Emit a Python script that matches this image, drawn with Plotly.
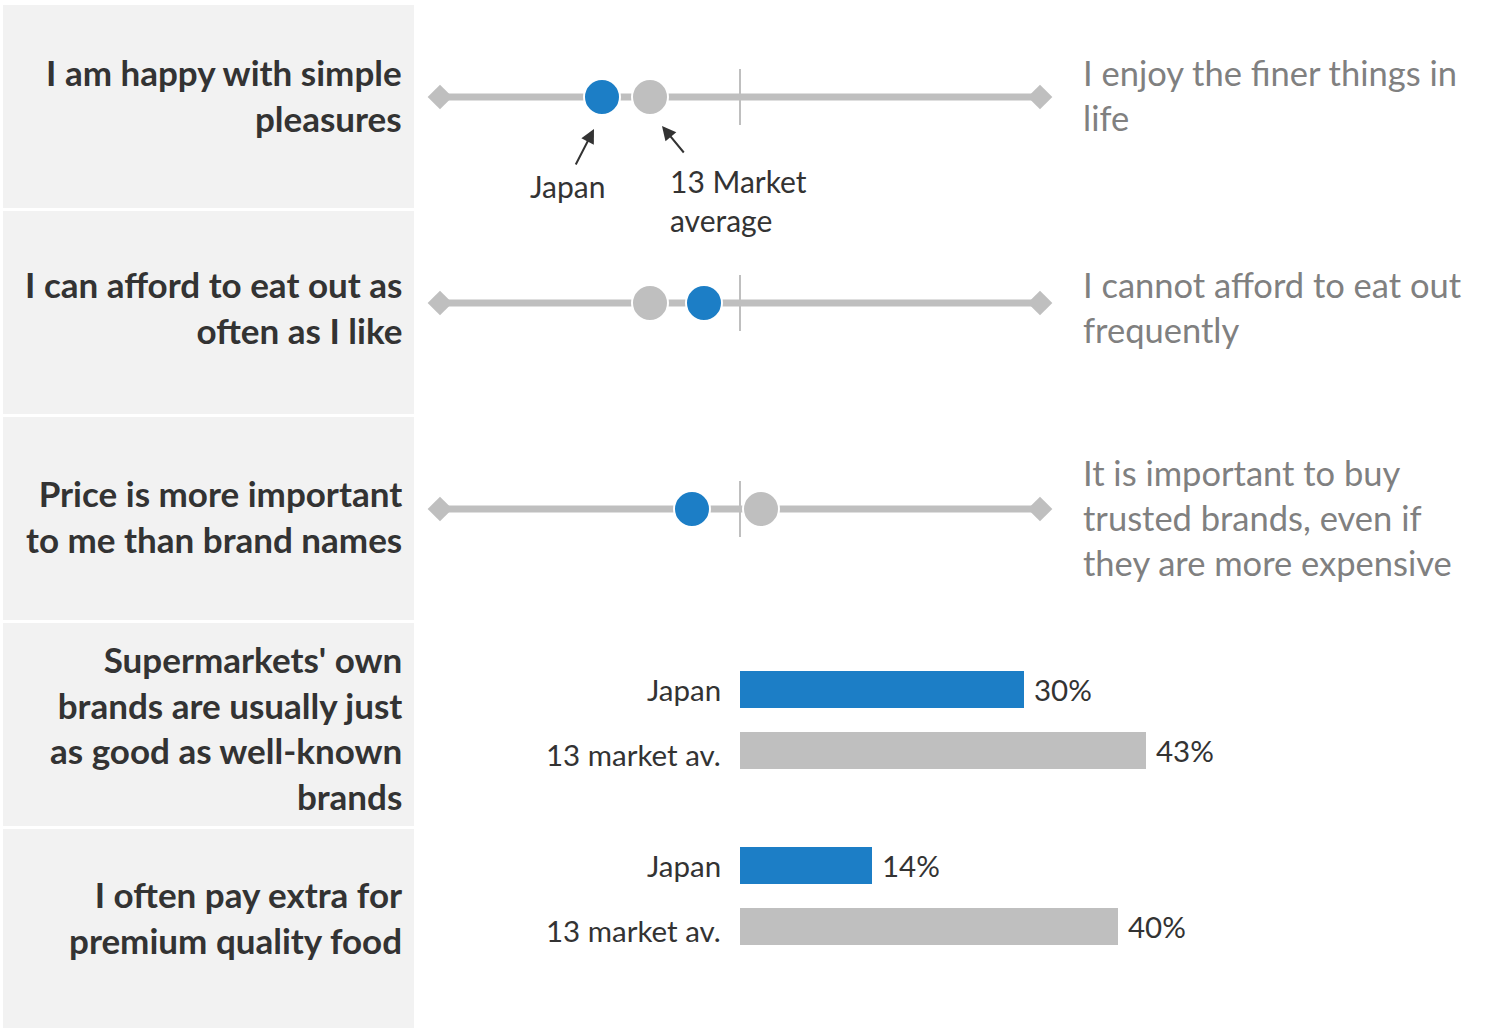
import plotly.graph_objects as go

# ---- data -------------------------------------------------------------
statements = [
    "I am happy with simple<br>pleasures",
    "I can afford to eat out as<br>often as I like",
    "Price is more important<br>to me than brand names",
    "Supermarkets' own<br>brands are usually just<br>as good as well-known<br>brands",
    "I often pay extra for<br>premium quality food",
]
opposites = [
    "I enjoy the finer things in<br>life",
    "I cannot afford to eat out<br>frequently",
    "It is important to buy<br>trusted brands, even if<br>they are more expensive",
]
# net position on the scale between the two statements (-100 .. 100)
japan_scale = [-46, -12, -16]
market_scale = [-30, -30, 7]
# share agreeing (%)
bar_groups = ["Japan", "13 market av."]
japan_pct = [30, 14]
market_pct = [43, 40]

# ---- styling ------------------------------------------------------------
W, H = 1499, 1030
BLUE = "#1c7ec6"
GREY = "#bfbfbf"
PANEL = "#f2f2f2"
DARK = "#333333"
SOFT = "#808080"
FONT = "Lato"

ROW_TOP = 5
ROW_STEP = 206
PANEL_H = 203
LINE_OFFSET = 92           # scale line position inside a row
LABEL_CENTRES = [95, 307, 516, 727, 917]
RIGHT_CENTRES = [95, 307, 517]
BAR_GROUP_CENTRES = [720, 896]
BAR_GAP = 61
BAR_H = 37
PX_PER_PCT = 9.45
BAR_X0 = 740

fig = go.Figure()

# scale lines with diamond ends, and the dots
for i in range(len(japan_scale)):
    y = ROW_TOP + ROW_STEP * i + LINE_OFFSET
    fig.add_trace(go.Scatter(
        x=[-100, 100], y=[y, y], mode="lines+markers", cliponaxis=False,
        line=dict(color=GREY, width=7),
        marker=dict(symbol="diamond", size=19, color=GREY),
        hoverinfo="skip", showlegend=False))
    fig.add_shape(type="line", xref="x", yref="y", x0=0, x1=0,
                  y0=y - 28, y1=y + 28, line=dict(color=GREY, width=2),
                  layer="below")
    fig.add_trace(go.Scatter(
        x=[market_scale[i]], y=[y], mode="markers", cliponaxis=False,
        marker=dict(size=36, color=GREY, line=dict(color="white", width=2)),
        name="13 Market average", showlegend=False))
    fig.add_trace(go.Scatter(
        x=[japan_scale[i]], y=[y], mode="markers", cliponaxis=False,
        marker=dict(size=36, color=BLUE, line=dict(color="white", width=2)),
        name="Japan", showlegend=False))

# horizontal bars
for g, centre in enumerate(BAR_GROUP_CENTRES):
    ys = [centre - BAR_GAP / 2, centre + BAR_GAP / 2]
    vals = [japan_pct[g], market_pct[g]]
    fig.add_trace(go.Bar(
        x=vals, y=ys, orientation="h", xaxis="x2", yaxis="y",
        width=BAR_H, marker=dict(color=[BLUE, GREY], line=dict(width=0)),
        hoverinfo="skip", showlegend=False))
    for k, (v, yy, lab) in enumerate(zip(vals, ys, bar_groups)):
        fig.add_annotation(x=v, y=yy, xref="x2", yref="y", text=f"{v}%",
                           xanchor="left", xshift=8, showarrow=False,
                           font=dict(family=FONT, size=29.5, color=DARK))
        fig.add_annotation(x=723 / W, y=yy, xref="paper", yref="y", text=lab,
                           xanchor="right", showarrow=False,
                           yshift=-4 * k,
                           font=dict(family=FONT, size=29.5, color=DARK))

# grey panels and statements on the left
for i, txt in enumerate(statements):
    top = ROW_TOP + ROW_STEP * i
    fig.add_shape(type="rect", xref="paper", yref="y", x0=3 / W, x1=414 / W,
                  y0=top, y1=min(top + PANEL_H, H - 2), fillcolor=PANEL,
                  line=dict(width=0), layer="below")
    fig.add_annotation(x=404 / W, y=LABEL_CENTRES[i], xref="paper", yref="y",
                       text=f"<b>{txt}</b>", xanchor="right", align="right",
                       showarrow=False,
                       font=dict(family=FONT, size=35, color=DARK))

# opposing statements on the right
for i, txt in enumerate(opposites):
    fig.add_annotation(x=1081 / W, y=RIGHT_CENTRES[i], xref="paper", yref="y",
                       text=txt, xanchor="left", align="left", showarrow=False,
                       font=dict(family=FONT, size=34.5, color=SOFT))

# call-outs for the first scale
y0 = ROW_TOP + LINE_OFFSET
fig.add_annotation(x=japan_scale[0], y=y0, xref="x", yref="y",
                   xshift=-8, yshift=-32, ax=-19, ay=37,
                   showarrow=True, arrowhead=2, arrowsize=1.4, arrowwidth=2,
                   arrowcolor=DARK, text="")
fig.add_annotation(x=market_scale[0], y=y0, xref="x", yref="y",
                   xshift=12, yshift=-29, ax=23, ay=28,
                   showarrow=True, arrowhead=2, arrowsize=1.4, arrowwidth=2,
                   arrowcolor=DARK, text="")
fig.add_annotation(x=567 / W, y=186, xref="paper", yref="y", text="Japan",
                   showarrow=False, font=dict(family=FONT, size=30, color=DARK))
fig.add_annotation(x=668 / W, y=200, xref="paper", yref="y",
                   text="13 Market<br>average", xanchor="left", align="left",
                   showarrow=False, font=dict(family=FONT, size=30, color=DARK))

fig.update_layout(
    width=W, height=H, margin=dict(l=0, r=0, t=0, b=0),
    paper_bgcolor="white", plot_bgcolor="rgba(0,0,0,0)",
    xaxis=dict(domain=[440 / W, 1040 / W], range=[-100, 100], visible=False),
    xaxis2=dict(domain=[BAR_X0 / W, 1.0], range=[0, (W - BAR_X0) / PX_PER_PCT],
                anchor="y", visible=False),
    yaxis=dict(domain=[0, 1], range=[H, 0], visible=False),
    bargap=0,
)

fig.write_html("out.html")
